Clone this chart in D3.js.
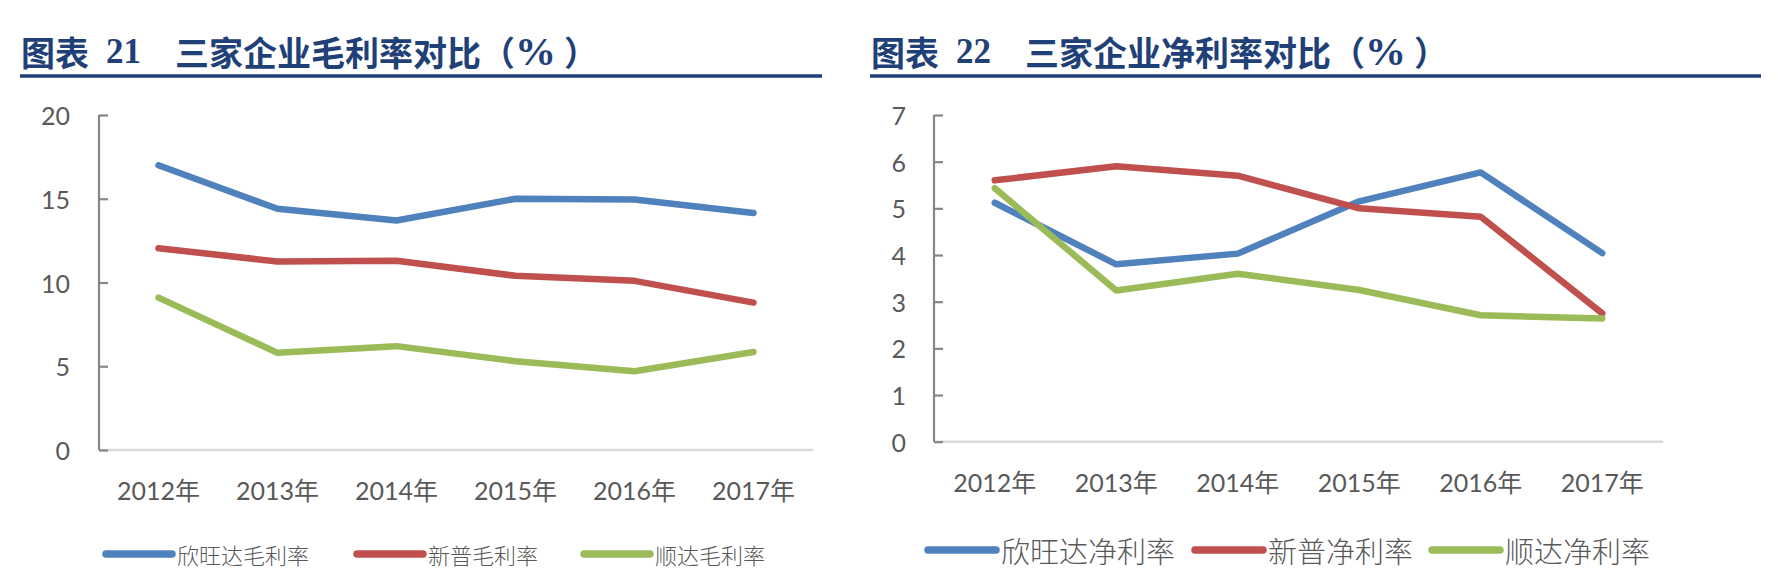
<!DOCTYPE html>
<html>
<head>
<meta charset="utf-8">
<script src="https://cdn.jsdelivr.net/npm/d3@7"></script>
<style>
  html, body { margin: 0; padding: 0; background: #fff; }
  svg { display: block; }
</style>
</head>
<body>
<svg id="chart" width="1778" height="584"></svg>
<script>
// ---------- data ----------
const years = ['2012年', '2013年', '2014年', '2015年', '2016年', '2017年'];

const grossNames = ['欣旺达毛利率', '新普毛利率', '顺达毛利率'];
const grossXWD = [17.0, 14.4, 13.7, 15.0, 14.95, 14.15];
const grossXP  = [12.05, 11.25, 11.3, 10.4, 10.1, 8.8];
const grossSD  = [9.1, 5.8, 6.2, 5.3, 4.7, 5.85];
const grossTicks = [0, 5, 10, 15, 20];

const netNames = ['欣旺达净利率', '新普净利率', '顺达净利率'];
const netXWD = [5.12, 3.8, 4.03, 5.15, 5.77, 4.04];
const netXP  = [5.6, 5.9, 5.7, 5.0, 4.82, 2.75];
const netSD  = [5.43, 3.24, 3.6, 3.25, 2.71, 2.64];
const netTicks = [0, 1, 2, 3, 4, 5, 6, 7];

const colors = ['#4F81BD', '#C0504D', '#9BBB59'];

// ---------- drawing ----------
const svg = d3.select('#chart');
const titleColor = '#1F4177';
const textColor = '#595959';
const numFont = 'Lato, "Open Sans", "Noto Sans CJK SC", sans-serif';
const cjkFont = '"Noto Sans CJK SC", "Noto Sans", sans-serif';
const serifFont = '"Liberation Serif", "DejaVu Serif", serif';

function drawTitle(cfg) {
  const g = svg.append('g');
  g.append('text').attr('x', cfg.x).attr('y', 51).attr('dominant-baseline', 'central')
    .attr('font-family', cjkFont).attr('font-weight', 700).attr('font-size', 34)
    .attr('fill', titleColor).text('图表');
  g.append('text').attr('x', cfg.x + 85).attr('y', 51).attr('dominant-baseline', 'central')
    .attr('font-family', serifFont).attr('font-weight', 700).attr('font-size', 35)
    .attr('fill', titleColor).text(cfg.num);
  const t = g.append('text').attr('x', cfg.x + 154).attr('y', 51).attr('dominant-baseline', 'central')
    .attr('font-family', cjkFont).attr('font-weight', 700).attr('font-size', 34)
    .attr('fill', titleColor);
  t.append('tspan').text(cfg.title + '（');
  t.append('tspan').attr('dx', 0).attr('font-family', serifFont).attr('font-size', 41).text('%');
  t.append('tspan').attr('dx', 8).text('）');
  g.append('line').attr('x1', cfg.lx1).attr('x2', cfg.lx2).attr('y1', 76).attr('y2', 76)
    .attr('stroke', titleColor).attr('stroke-width', 3.5);
}

function drawChart(cfg) {
  const g = svg.append('g');
  const x = d3.scalePoint().domain(years).range([cfg.x0, cfg.x1]).padding(0.5);
  const y = d3.scaleLinear().domain([0, cfg.ymax]).range([cfg.y0, cfg.ytop]);

  // x axis baseline (light gray)
  g.append('line').attr('x1', cfg.x0).attr('x2', cfg.x1).attr('y1', y(0)).attr('y2', y(0))
    .attr('stroke', '#D9D9D9').attr('stroke-width', 2.5);

  // y axis with inner ticks
  const yAxis = d3.axisRight(y).tickValues(cfg.ticks).tickSize(9).tickFormat('');
  const ya = g.append('g').attr('transform', `translate(${cfg.x0},0)`).call(yAxis);
  ya.select('.domain').attr('stroke', '#868686').attr('stroke-width', 2.2)
    .attr('d', `M0,${y(cfg.ymax)}V${y(0)}`);
  ya.selectAll('.tick line').attr('stroke', '#868686').attr('stroke-width', 2.2);

  // y labels
  g.selectAll('.ylab').data(cfg.ticks).enter().append('text')
    .attr('x', cfg.ylabX).attr('y', d => y(d)).attr('text-anchor', 'end')
    .attr('dominant-baseline', 'central')
    .attr('font-family', numFont).attr('font-size', 25).attr('fill', textColor)
    .text(d => d);

  // x labels
  g.selectAll('.xlab').data(years).enter().append('text')
    .attr('x', d => x(d)).attr('y', cfg.xlabY).attr('text-anchor', 'middle')
    .attr('dominant-baseline', 'central')
    .attr('font-family', numFont).attr('font-size', 25).attr('fill', textColor)
    .text(d => d);

  // lines
  const line = d3.line().x((d, i) => x(years[i])).y(d => y(d));
  cfg.series.forEach((s, k) => {
    g.append('path').datum(s).attr('d', line).attr('fill', 'none')
      .attr('stroke', colors[k]).attr('stroke-width', 6.5)
      .attr('stroke-linecap', 'round').attr('stroke-linejoin', 'round');
  });

  // legend
  cfg.legend.forEach((lg, k) => {
    g.append('line').attr('x1', lg.lx).attr('x2', lg.lx + cfg.legLen)
      .attr('y1', cfg.legY).attr('y2', cfg.legY)
      .attr('stroke', colors[k]).attr('stroke-width', 7.5).attr('stroke-linecap', 'round');
    g.append('text').attr('x', lg.lx + cfg.legLen + 5).attr('y', cfg.legY)
      .attr('dominant-baseline', 'central')
      .attr('font-family', cjkFont).attr('font-weight', 300).attr('font-size', cfg.legFont)
      .attr('fill', textColor).text(cfg.names[k]);
  });
}

drawTitle({ x: 21, num: '21', title: '三家企业毛利率对比', lx1: 20, lx2: 822 });
drawTitle({ x: 871, num: '22', title: '三家企业净利率对比', lx1: 870, lx2: 1761 });

drawChart({
  x0: 99, x1: 813, y0: 450, ytop: 115, ymax: 20, ticks: grossTicks,
  ylabX: 70, xlabY: 490,
  series: [grossXWD, grossXP, grossSD], names: grossNames,
  legY: 554, legLen: 66, legFont: 22,
  legend: [{ lx: 106 }, { lx: 357 }, { lx: 584 }]
});

drawChart({
  x0: 934, x1: 1663, y0: 441.7, ytop: 115, ymax: 7, ticks: netTicks,
  ylabX: 906, xlabY: 482,
  series: [netXWD, netXP, netSD], names: netNames,
  legY: 550, legLen: 68, legFont: 29,
  legend: [{ lx: 928 }, { lx: 1195 }, { lx: 1432 }]
});
</script>
</body>
</html>
